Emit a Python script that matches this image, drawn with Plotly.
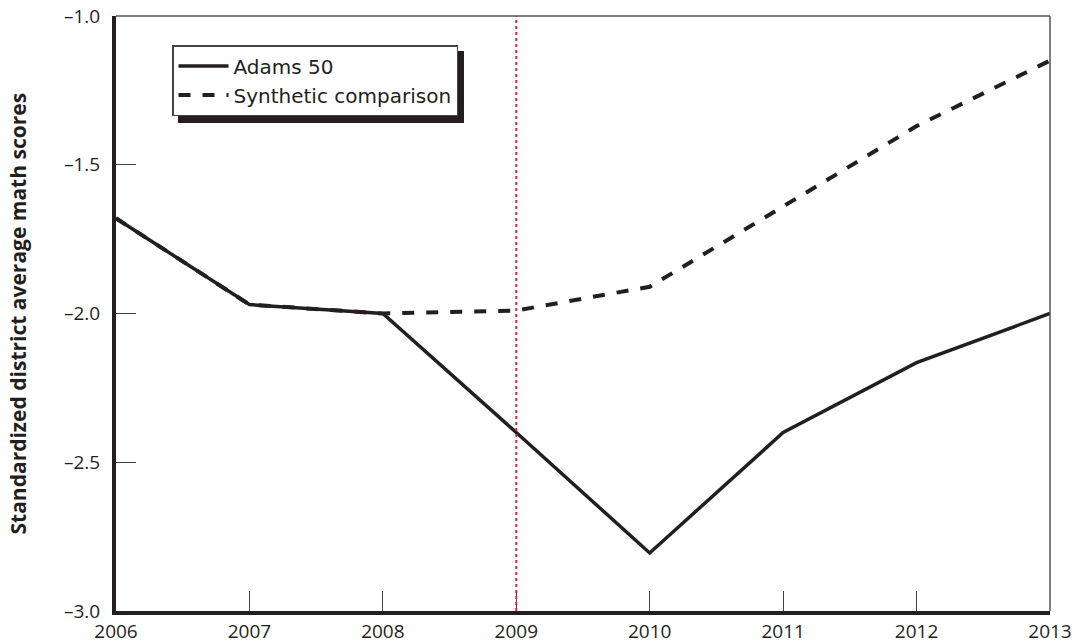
import plotly.graph_objects as go

years = [2006, 2007, 2008, 2009, 2010, 2011, 2012, 2013]
adams50 = [-1.68, -1.97, -2.00, -2.40, -2.805, -2.40, -2.165, -2.00]
synthetic = [-1.68, -1.97, -2.00, -1.99, -1.91, -1.64, -1.37, -1.15]
y_ticks = [-1.0, -1.5, -2.0, -2.5, -3.0]
y_tick_labels = ["–1.0", "–1.5", "–2.0", "–2.5", "–3.0"]
treatment_year = 2009

ink = "#231f20"
font = "Open Sans"

fig = go.Figure()
fig.add_trace(go.Scatter(x=years, y=adams50, mode="lines", name="Adams 50",
                         line=dict(color=ink, width=3.5)))
fig.add_trace(go.Scatter(x=years, y=synthetic, mode="lines",
                         name="Synthetic comparison",
                         line=dict(color=ink, width=4, dash="dash")))

# vertical red dotted line
fig.add_shape(type="line", xref="x", yref="paper", x0=treatment_year, x1=treatment_year,
              y0=0, y1=1, line=dict(color="#e8232a", width=2, dash="dot"), layer="above")
# thin top/right frame
fig.add_shape(type="line", xref="paper", yref="paper", x0=0, x1=1, y0=1, y1=1,
              line=dict(color="#555555", width=1.5))
fig.add_shape(type="line", xref="paper", yref="paper", x0=1, x1=1, y0=0, y1=1,
              line=dict(color="#555555", width=1.5))
# legend drop shadow (plot area: 934 x 595 px, origin at 116,611)
fig.add_shape(type="rect", xref="paper", yref="paper",
              x0=(178 - 116) / 934, x1=(464 - 116) / 934,
              y0=(611 - 123) / 595, y1=(611 - 51) / 595,
              fillcolor=ink, line=dict(width=0), layer="above")

fig.add_annotation(text="<b>Standardized district average math scores</b>",
                   xref="paper", yref="paper", x=0, y=0.5, xanchor="center", yanchor="middle",
                   xshift=-99, textangle=-90, showarrow=False,
                   font=dict(size=21, family=font, color=ink))

fig.update_layout(
    width=1072, height=643,
    margin=dict(l=116, r=22, t=16, b=32),
    paper_bgcolor="white", plot_bgcolor="white",
    font=dict(family=font, size=19, color=ink),
    showlegend=True,
    legend=dict(x=(172 - 116) / 934, y=(611 - 45) / 595, xanchor="left", yanchor="top",
                bgcolor="white", bordercolor="#444444", borderwidth=1.5,
                font=dict(size=20, family="DejaVu Sans", color=ink),
                tracegroupgap=0, itemwidth=50),
    xaxis=dict(range=[2006, 2013], tickvals=years, ticktext=[str(y) for y in years],
               ticks="inside", ticklen=20, tickwidth=1.2, tickcolor="#444444",
               showline=True, linewidth=4, linecolor=ink, showgrid=False, zeroline=False,
               tickfont=dict(size=19), automargin=False),
    yaxis=dict(range=[-3.0, -1.0], tickvals=y_ticks, ticktext=y_tick_labels,
               ticks="inside", ticklen=20, tickwidth=1.2, tickcolor="#444444",
               showline=True, linewidth=4, linecolor=ink, showgrid=False, zeroline=False,
               tickfont=dict(size=19), automargin=False, ticklabelstandoff=8),
)

fig.write_html("out.html", config={"displayModeBar": False},
               post_script="document.body.style.margin='0';")
